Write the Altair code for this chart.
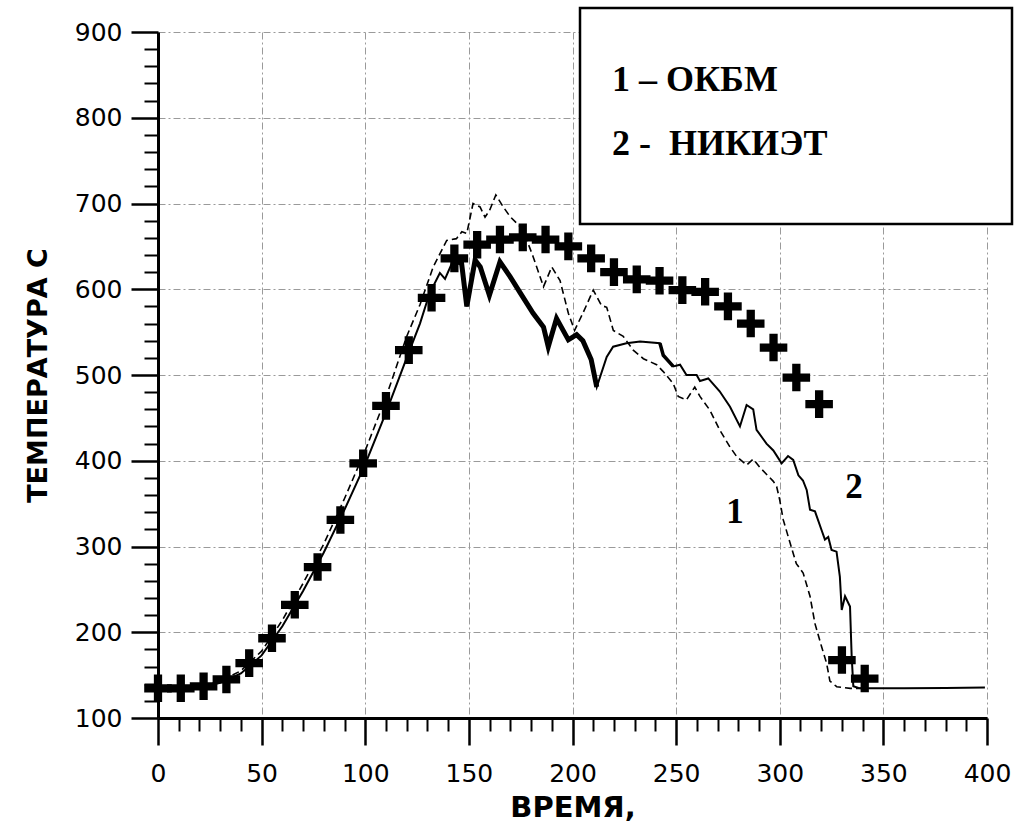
import altair as alt
import pandas as pd

# ---- data ----
# curve 1 (ОКБМ, dashed)
x1 = [0, 10, 20, 30, 40, 50, 60, 70, 80, 90, 100, 110, 120, 126.4, 132.8, 139.3, 144, 146.6, 149,
      152, 155.4, 157.8, 160, 163, 166.6, 169.8, 174.7, 178, 181, 186, 190, 194, 198, 201, 205,
      210, 214, 216.5, 219.7, 224.5, 229.3, 234.2, 240.6, 243.8, 248.6, 251, 255, 259, 261.5,
      266.3, 271, 276, 279.2, 284, 287.2, 290.5, 296.9, 298.5, 300, 301.7, 305, 308, 311.3,
      314.6, 317, 320.2, 322.6, 324.2, 327.5, 334, 340]
y1 = [132, 133, 136, 143, 155, 178, 214, 257, 303, 356, 412, 474, 545, 582, 626, 657, 659, 667, 665,
      700, 696, 684, 692, 710, 696, 685, 673, 657, 638, 603, 626, 610, 572, 552, 572,
      599, 581, 579, 552, 545, 529, 519, 512, 504, 490, 475, 471, 486, 475,
      459, 436, 416, 405, 395, 402, 392, 376, 370, 354, 331, 304, 280, 269,
      242, 210, 183, 164, 143, 136.5, 134.6, 134.6]

# curve 2 (НИКИЭТ, solid)
x2 = [0, 10, 20, 30, 40, 50, 60, 70, 80, 90, 100, 110, 120, 126.4, 131, 136, 138.5, 142.5, 146.5,
      149, 153, 155.5, 159.9, 165, 169.8, 174.7, 181, 186, 188.3, 192.3, 198, 202, 205, 209,
      211.7, 216.5, 219.6, 226, 232.6, 242.2, 243.8, 248.6, 251.9, 255, 259.9, 261.5, 265.5,
      271, 276, 280.8, 284, 287.2, 288.8, 293.6, 296.9, 300.9, 304, 306.5, 309, 311.2, 313,
      314.6, 317, 320.2, 321.8, 323.4, 325, 327.4, 329, 329.9, 331.5, 333.9, 334.7, 335.5,
      338, 340.3, 360, 380, 399]
y2 = [132, 133, 135, 141, 152, 173, 207, 248, 293, 343, 396, 456, 520, 560, 595, 619, 612, 634, 630,
      580, 634, 626, 593, 632, 615, 596, 572, 556, 533, 566, 541, 547, 540, 518,
      486, 521, 533, 537, 539, 537, 523, 510, 512, 500, 500, 493, 496,
      481, 463, 440, 465, 460, 436, 420, 412, 397, 405.5, 401, 383, 377, 366,
      343, 341, 319, 308, 311, 296, 294, 265, 226, 242, 230, 172, 137,
      135, 134.6, 134.8, 135, 135.5]

# experimental points (crosses)
xm = [0, 11, 22, 33, 44, 55, 66, 77, 88, 99, 110, 121, 132, 143, 154, 165, 176, 187, 198, 209,
      220, 231, 242, 253, 264, 275, 286, 297, 308, 319, 330, 341]
ym = [134.6, 134.6, 137, 145, 164, 193, 232, 276, 331, 397, 464, 529, 590, 636, 652, 658, 660.5,
      658, 650, 636, 620, 611.5, 610, 599, 597, 580, 560, 532, 497, 466, 167.6, 146]

curve_labels = ["1", "2"]
curve_label_x = [278.4, 335.8]
curve_label_y = [327, 356.5]

legend_lines = ["1 – ОКБМ", "2 -\u00a0 НИКИЭТ"]

x_major = [0, 50, 100, 150, 200, 250, 300, 350, 400]
x_minor = [v for v in range(0, 401, 10) if v % 50 != 0]
y_major = [100, 200, 300, 400, 500, 600, 700, 800, 900]
y_minor = [v for v in range(100, 901, 20) if v % 100 != 0]

d1 = pd.DataFrame({"x": x1, "y": y1})
d2 = pd.DataFrame({"x": x2, "y": y2})
d2_thick = d2[(d2.x >= 141) & (d2.x <= 213)]
d2_mid = d2[(d2.x >= 241) & (d2.x <= 250)]
dm = pd.DataFrame({"x": xm, "y": ym})
dl = pd.DataFrame({"x": curve_label_x, "y": curve_label_y, "t": curve_labels})

W, H = 829, 686
xs = alt.Scale(domain=[0, 400], nice=False, zero=False)
ys = alt.Scale(domain=[100, 900], nice=False, zero=False)

GRID = dict(grid=True, gridColor="#9a9a9a", gridDash=[7, 3, 2, 3], gridWidth=1)

minor_x = alt.Axis(values=x_minor, tickSize=13, tickWidth=2, tickColor="black", labels=False,
                   domain=False, grid=False, title=None, orient="bottom")
minor_y = alt.Axis(values=y_minor, tickSize=14, tickWidth=2, tickColor="black", labels=False,
                   domain=False, grid=False, title=None, orient="left")
major_x = alt.Axis(values=x_major, tickSize=27, tickWidth=2.5, tickColor="black",
                   domain=True, domainWidth=3, domainColor="black",
                   labelFont="DejaVu Sans", labelFontSize=25, labelColor="black",
                   labelPadding=16, labelFlush=False, labelOverlap=False,
                   title="ВРЕМЯ,", titleFont="DejaVu Sans", titleFontWeight="bold",
                   titleFontSize=29, titleColor="black", titlePadding=7,
                   orient="bottom", **GRID)
major_y = alt.Axis(values=y_major, tickSize=27, tickWidth=2.5, tickColor="black",
                   domain=True, domainWidth=3, domainColor="black",
                   labelFont="DejaVu Sans", labelFontSize=25, labelColor="black",
                   labelPadding=9, labelFlush=False, labelOverlap=False,
                   title="ТЕМПЕРАТУРА С", titleFont="DejaVu Sans", titleFontWeight="bold",
                   titleFontSize=27, titleColor="black", titlePadding=22,
                   orient="left", **GRID)

line1 = alt.Chart(d1).mark_line(color="black", strokeWidth=1.6, strokeDash=[7, 4]).encode(
    x=alt.X("x:Q", scale=xs, axis=minor_x),
    y=alt.Y("y:Q", scale=ys, axis=minor_y),
)
line2 = alt.Chart(d2).mark_line(color="black", strokeWidth=2).encode(
    x=alt.X("x:Q", scale=xs, axis=major_x),
    y=alt.Y("y:Q", scale=ys, axis=major_y),
)
line2_thick = alt.Chart(d2_thick).mark_line(color="black", strokeWidth=5).encode(
    x=alt.X("x:Q", scale=xs, axis=None),
    y=alt.Y("y:Q", scale=ys, axis=None),
)
line2_mid = alt.Chart(d2_mid).mark_line(color="black", strokeWidth=3.5).encode(
    x=alt.X("x:Q", scale=xs, axis=None),
    y=alt.Y("y:Q", scale=ys, axis=None),
)
CROSS = "M-1,-0.3H-0.3V-1H0.3V-0.3H1V0.3H0.3V1H-0.3V0.3H-1Z"
marks = alt.Chart(dm).mark_point(shape=CROSS, filled=True, color="black", size=760,
                                 opacity=1, strokeWidth=0).encode(
    x=alt.X("x:Q", scale=xs, axis=None),
    y=alt.Y("y:Q", scale=ys, axis=None),
)
labels = alt.Chart(dl).mark_text(font="Liberation Serif", fontWeight="bold", fontSize=35,
                                 align="center", baseline="alphabetic", color="black").encode(
    x=alt.X("x:Q", scale=xs, axis=None),
    y=alt.Y("y:Q", scale=ys, axis=None),
    text="t:N",
)
one = pd.DataFrame({"a": [0]})
box = alt.Chart(one).mark_rect(fill="white", stroke="black", strokeWidth=2.5).encode(
    x=alt.value(422), x2=alt.value(854), y=alt.value(-24), y2=alt.value(192)
)
leg1 = alt.Chart(one).mark_text(font="Liberation Serif", fontWeight="bold", fontSize=36,
                                align="left", baseline="alphabetic", color="black").encode(
    x=alt.value(454), y=alt.value(59), text=alt.value(legend_lines[0])
)
leg2 = alt.Chart(one).mark_text(font="Liberation Serif", fontWeight="bold", fontSize=36,
                                align="left", baseline="alphabetic", color="black").encode(
    x=alt.value(454), y=alt.value(123), text=alt.value(legend_lines[1])
)

chart = alt.layer(line1, line2, line2_thick, line2_mid, marks, labels, box, leg1, leg2).resolve_axis(
    x="independent", y="independent"
).properties(
    width=W, height=H,
    autosize=alt.AutoSizeParams(type="none"),
    padding={"left": 158, "top": 32, "right": 27, "bottom": 105},
    background="white",
).configure_view(stroke=None)

chart.save("out.html", embed_options={"renderer": "svg", "actions": False})
